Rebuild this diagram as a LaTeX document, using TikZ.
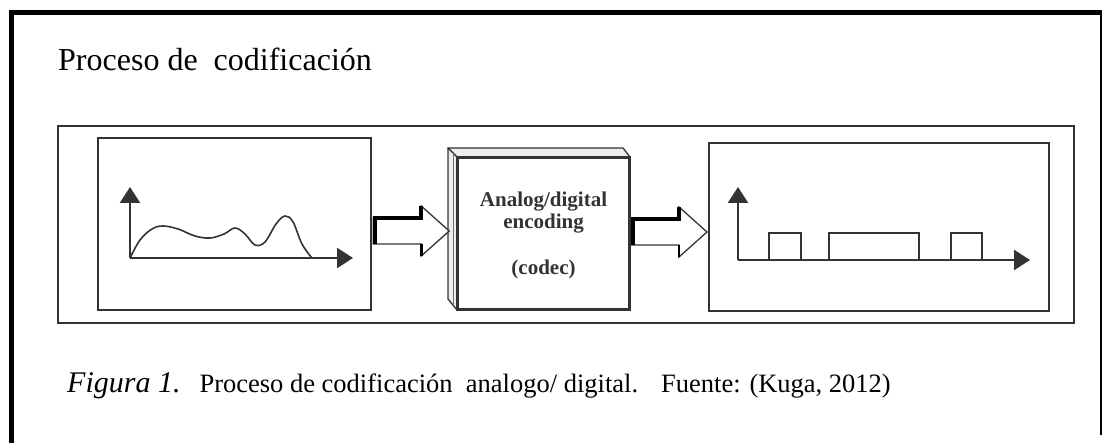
\documentclass[tikz,border=0pt]{standalone}
\usepackage{fontspec}
\setmainfont{Liberation Serif}
\usetikzlibrary{arrows.meta,calc}
\definecolor{ink}{HTML}{333333}
\definecolor{face}{HTML}{EDEDED}

\tikzset{
  frameline/.style={line width=5pt, black},
  figframe/.style={draw=ink, line width=1.4pt},
  sigbox/.style={draw=ink, line width=2.4pt, inner sep=0pt},
  axis/.style={draw=ink, line width=2.6pt, -{Triangle[length=16pt,width=20pt]}},
  wave/.style={draw=ink, line width=1.6pt},
  pulse/.style={draw=ink, line width=1.6pt},
  cubeface/.style={draw=ink, line width=1.3pt, fill=face, line join=round},
  cubefront/.style={draw=ink, line width=2pt, fill=white, inner sep=0pt},
  codectext/.style={anchor=base, text=ink, font=\fontsize{21}{24}\selectfont\bfseries},
  hollow/.style={draw=ink, line width=1.3pt, fill=white, line join=miter},
  heavyedge/.style={draw=black, line width=4pt, line cap=butt, line join=miter},
}

% hollow block arrow starting at a named point (centre of the shaft's tail)
\newcommand\hollowarrow[1]{%
  \draw[hollow] (#1) ++(0,-13) -- ++(48,0) -- ++(0,-12) -- ++(28,25)
        -- ++(-28,25) -- ++(0,-12) -- ++(-48,0) -- cycle;
  \draw[heavyedge] (#1) ++(1.5,13) -- ++(0,-26) -- ++(46.5,0) -- ++(0,-12);
  \draw[draw=black, line width=2.6pt] (#1) ++(48,13) -- ++(0,12);
}

\begin{document}
\begin{tikzpicture}[x=1pt, y=-1pt]
  \useasboundingbox (0,0) rectangle (1102,443);

  % page frame
  \draw[frameline] (9,12.5) -- (1102,12.5);
  \draw[frameline] (11.5,10) -- (11.5,443);
  \draw[black, line width=2pt] (1100.5,12) -- (1100.5,435);

  % heading
  \node[anchor=base west, inner sep=0pt, font=\fontsize{32}{36}\selectfont]
    (title) at (58,71) {Proceso de\ \ codificación};

  % figure frame
  \node[figframe, minimum width=1016pt, minimum height=197pt, inner sep=0pt]
    (fig) at (566,224.5) {};

  % analog signal panel
  \node[sigbox, minimum width=273pt, minimum height=172pt] (src) at (234.5,224) {};
  \coordinate (o1) at (130,258);
  \draw[wave] plot[smooth, tension=0.6] coordinates {
    (130,258) (140,240) (152,229) (163,226) (178,229) (195,236) (210,238)
    (224,234) (235,228) (245,234) (255,245) (265,242) (276,224) (285,216)
    (293,222) (302,244) (312,258)};
  \draw[axis] (o1) -- (130,187);
  \draw[axis] (o1) -- (353,258);

  % codec block
  \node[cubefront, minimum width=171pt, minimum height=151pt] (codec) at (543.5,233.5) {};
  \draw[cubeface] (448,148) -- (623,148) -- (codec.north east) -- (codec.north west) -- cycle;
  \draw[cubeface] (448,148) -- (codec.north west) -- (codec.south west) -- (448,299) -- cycle;
  \draw[draw=ink!70, line width=0.8pt] (453,153) -- (453,304);
  \draw[draw=ink, line width=2pt] (codec.north west) rectangle (codec.south east);
  \node[codectext] (l1) at (543.5,207) {Analog/digital};
  \node[codectext] (l2) at (543.5,229) {encoding};
  \node[codectext] (l3) at (543.5,275) {(codec)};

  % digital signal panel
  \node[sigbox, minimum width=340pt, minimum height=168pt] (dst) at (879,227) {};
  \coordinate (o2) at (738,260);
  \draw[pulse] (769,260) rectangle (801,233);
  \draw[pulse] (829,260) rectangle (919,233);
  \draw[pulse] (951,260) rectangle (982,233);
  \draw[axis] (o2) -- (738,187);
  \draw[axis] (o2) -- (1030,260);

  % block arrows between the panels
  \coordinate (a1) at ($(src.east)+(1,7)$);
  \coordinate (a2) at ($(codec.east)+(1,-1.5)$);
  \hollowarrow{a1}
  \hollowarrow{a2}

  % caption
  \node[anchor=base west, inner sep=0pt] (caption) at (67,392)
    {{\fontsize{30}{34}\selectfont\itshape Figura 1.}\hspace{19pt}%
     {\fontsize{26.5}{30}\selectfont Proceso de codificación\ \ analogo/ digital.\hspace{23pt}Fuente: (Kuga, 2012)}};
\end{tikzpicture}
\end{document}
